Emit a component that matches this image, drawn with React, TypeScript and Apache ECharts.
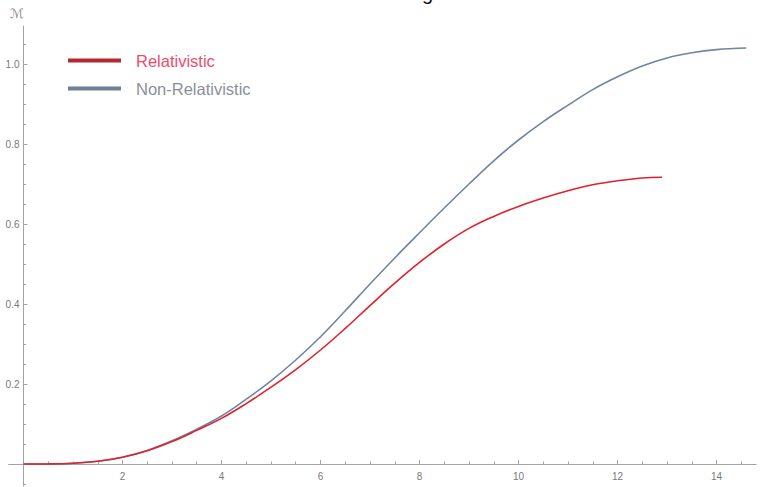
import React, { useEffect, useRef } from "react";
import * as echarts from "echarts";

const seriesNames = ["Relativistic", "Non-Relativistic"];

const xRel = [0, 0.5, 1, 1.5, 2, 2.5, 3, 3.5, 4, 4.5, 5, 5.5, 6, 6.5, 7, 7.5, 8, 8.5, 9, 9.5, 10, 10.5, 11, 11.5, 12, 12.5, 12.9];
const yRel = [0, 0.0003, 0.002, 0.007, 0.017, 0.033, 0.056, 0.084, 0.114, 0.151, 0.192, 0.236, 0.285, 0.339, 0.396, 0.452, 0.504, 0.55, 0.589, 0.619, 0.644, 0.665, 0.683, 0.698, 0.708, 0.715, 0.717];

const xNon = [0, 0.5, 1, 1.5, 2, 2.5, 3, 3.5, 4, 4.5, 5, 5.5, 6, 6.5, 7, 7.5, 8, 8.5, 9, 9.5, 10, 10.5, 11, 11.5, 12, 12.5, 13, 13.5, 14, 14.6];
const yNon = [0, 0.0003, 0.002, 0.007, 0.017, 0.034, 0.058, 0.087, 0.12, 0.162, 0.208, 0.26, 0.318, 0.383, 0.45, 0.515, 0.578, 0.64, 0.7, 0.758, 0.81, 0.856, 0.897, 0.936, 0.968, 0.995, 1.015, 1.028, 1.036, 1.04];

const xMajorTicks = [2, 4, 6, 8, 10, 12, 14];
const xMinorTicks = [0.5, 1, 1.5, 2.5, 3, 3.5, 4.5, 5, 5.5, 6.5, 7, 7.5, 8.5, 9, 9.5, 10.5, 11, 11.5, 12.5, 13, 13.5, 14.5];
const yMajorTicks = [0.2, 0.4, 0.6, 0.8, 1.0];
const yMinorTicks = [-0.05, 0.05, 0.1, 0.15, 0.25, 0.3, 0.35, 0.45, 0.5, 0.55, 0.65, 0.7, 0.75, 0.85, 0.9, 0.95, 1.05];

const X_MIN = -0.3;
const X_MAX = 14.8;
const Y_MIN = -0.055;
const Y_MAX = 1.095;

const FONT = "'Liberation Sans', Arial, sans-serif";
const AXIS_COLOR = "#a3a3a3";
const LABEL_COLOR = "#7a7a7a";

const W = 764;
const H = 487;
const GRID = { left: 8.65, right: 7.9, top: 26, bottom: 1 };

export default function App() {
  const ref = useRef<HTMLDivElement>(null);
  useEffect(() => {
    document.body.style.margin = "0";
    if (!ref.current) return;
    const chart = echarts.init(ref.current, null, { renderer: "svg" });
    const zip = (xs: number[], ys: number[]) => xs.map((x, i) => [x, ys[i]]);
    const pxX = (W - GRID.left - GRID.right) / (X_MAX - X_MIN);
    const pxY = (H - GRID.top - GRID.bottom) / (Y_MAX - Y_MIN);
    const yAxisOffset = -(0 - X_MIN) * pxX;
    const xAxisOffset = -(0 - Y_MIN) * pxY;
    const xBase = {
      type: "value",
      min: X_MIN,
      max: X_MAX,
      position: "bottom",
      offset: xAxisOffset,
      splitLine: { show: false },
    };
    const yBase = {
      type: "value",
      min: Y_MIN,
      max: Y_MAX,
      position: "left",
      offset: yAxisOffset,
      splitLine: { show: false },
    };
    chart.setOption({
      animation: false,
      backgroundColor: "#ffffff",
      textStyle: { fontFamily: FONT },
      grid: { ...GRID, containLabel: false, outerBoundsMode: "none" },
      xAxis: [
        {
          ...xBase,
          axisLine: { show: true, onZero: false, lineStyle: { color: AXIS_COLOR, width: 1 } },
          axisTick: { show: true, inside: true, length: 4, customValues: xMajorTicks, lineStyle: { color: AXIS_COLOR } },
          axisLabel: { show: true, customValues: xMajorTicks, color: LABEL_COLOR, fontSize: 10, margin: 7, fontFamily: FONT },
        },
        {
          ...xBase,
          axisLine: { show: false, onZero: false },
          axisTick: { show: true, inside: true, length: 2.5, customValues: xMinorTicks, lineStyle: { color: AXIS_COLOR } },
          axisLabel: { show: false },
        },
      ],
      yAxis: [
        {
          ...yBase,
          axisLine: { show: true, onZero: false, lineStyle: { color: AXIS_COLOR, width: 1 } },
          axisTick: { show: true, inside: true, length: 4, customValues: yMajorTicks, lineStyle: { color: AXIS_COLOR } },
          axisLabel: {
            show: true,
            customValues: yMajorTicks,
            color: LABEL_COLOR,
            fontSize: 10,
            margin: 4,
            fontFamily: FONT,
            formatter: (v: number) => v.toFixed(1),
          },
        },
        {
          ...yBase,
          axisLine: { show: false, onZero: false },
          axisTick: { show: true, inside: true, length: 2.5, customValues: yMinorTicks, lineStyle: { color: AXIS_COLOR } },
          axisLabel: { show: false },
        },
      ],
      legend: {
        orient: "vertical",
        left: 63,
        top: 46,
        itemWidth: 53,
        itemHeight: 4,
        itemGap: 9,
        textStyle: { fontSize: 16.5, lineHeight: 19, fontFamily: FONT, padding: [0, 0, 0, 10] },
        data: [
          { name: seriesNames[0], icon: "rect", itemStyle: { color: "#b8272e" }, textStyle: { color: "#ee4c6f" } },
          { name: seriesNames[1], icon: "rect", itemStyle: { color: "#6c8096" }, textStyle: { color: "#8a909a" } },
        ],
      },
      graphic: [
        {
          type: "text",
          left: 10,
          top: 7,
          style: { text: "ℳ", fontSize: 13, fill: "#8a8a8a", fontStyle: "italic", fontFamily: "'DejaVu Sans', sans-serif" },
        },
        {
          type: "text",
          x: 422,
          y: 3,
          style: { text: "g", fontSize: 20, fill: "#111111", verticalAlign: "bottom", fontFamily: FONT },
        },
      ],
      series: [
        {
          name: seriesNames[1],
          type: "line",
          data: zip(xNon, yNon),
          showSymbol: false,
          smooth: 0.4,
          lineStyle: { color: "#6e86a4", width: 1.6 },
          itemStyle: { color: "#6c8096" },
          z: 2,
        },
        {
          name: seriesNames[0],
          type: "line",
          data: zip(xRel, yRel),
          showSymbol: false,
          smooth: 0.4,
          lineStyle: { color: "#e3212c", width: 1.6 },
          itemStyle: { color: "#b8272e" },
          z: 3,
        },
      ],
    });
    return () => chart.dispose();
  }, []);
  return <div ref={ref} style={{ width: W, height: H }} />;
}
